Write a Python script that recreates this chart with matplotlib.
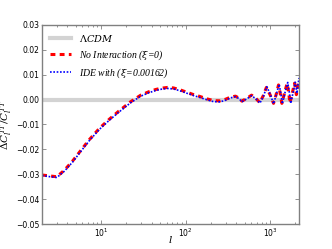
import numpy as np
import matplotlib
matplotlib.use("Agg")
import matplotlib.pyplot as plt
from matplotlib.ticker import FixedLocator, LogLocator, NullFormatter

# multipole values
l_red = [2, 2.5, 3, 3.7, 4.6, 5.8, 7.3, 9.6, 12.5, 16.4, 22.5, 29.5, 37, 44.6,
         52, 61, 72, 85, 105, 125, 150, 180, 214, 257, 300, 340, 390, 430, 464,
         530, 605, 680, 755, 830, 905, 1000, 1100, 1180, 1260, 1320, 1380, 1480,
         1590, 1660, 1720, 1830, 1950, 2050, 2200]
d_red = [-0.0303, -0.0307, -0.0310, -0.0283, -0.0247, -0.0203, -0.0160, -0.0115,
         -0.0079, -0.0045, -0.0008, 0.0018, 0.0032, 0.0041, 0.0046, 0.0049,
         0.0047, 0.0040, 0.0029, 0.0020, 0.0012, 0.0003, -0.0004, -0.0005,
         0.0002, 0.0010, 0.0014, 0.0006, -0.0006, 0.0005, 0.0018, 0.0005,
         -0.0012, 0.0015, 0.0049, 0.0020, -0.0015, 0.0020, 0.0059, 0.0025,
         -0.0015, 0.0025, 0.0065, 0.0030, -0.0014, 0.0025, 0.0066, 0.0020,
         0.0080]

l_blue = [2, 2.5, 3, 3.7, 4.6, 5.8, 7.3, 9.6, 12.5, 16.4, 22.5, 29.5, 37, 44.6,
          52, 61, 72, 85, 105, 125, 150, 180, 214, 257, 300, 340, 390, 430, 464,
          530, 605, 680, 760, 840, 915, 1010, 1100, 1190, 1280, 1340, 1400, 1500,
          1620, 1690, 1760, 1870, 1990, 2080, 2200]
d_blue = [-0.0305, -0.0310, -0.0313, -0.0287, -0.0251, -0.0207, -0.0164, -0.0119,
          -0.0083, -0.0049, -0.0012, 0.0014, 0.0028, 0.0037, 0.0042, 0.0045,
          0.0043, 0.0036, 0.0025, 0.0016, 0.0008, -0.0001, -0.0008, -0.0009,
          -0.0002, 0.0007, 0.0012, 0.0004, -0.0009, 0.0003, 0.0016, 0.0003,
          -0.0014, 0.0016, 0.0052, 0.0020, -0.0017, 0.0022, 0.0062, 0.0026,
          -0.0017, 0.0027, 0.0069, 0.0030, -0.0015, 0.0027, 0.0070, 0.0025,
          0.0087]

l_lcdm = [2, 2200]
d_lcdm = [0.0, 0.0]

labels = [r'$\Lambda CDM$', r'No Interaction ($\xi$=0)', r'IDE with ($\xi$=0.00162)']

plt.rcParams['mathtext.fontset'] = 'dejavuserif'

fig = plt.figure(figsize=(3.32, 2.49), dpi=100)
ax = fig.add_axes([0.1265, 0.1004, 0.774, 0.7992])

ax.plot(l_lcdm, d_lcdm, color='#d3d3d3', lw=3.0, label=labels[0])
ax.plot(l_red, d_red, color='red', lw=2.2, ls=(0, (1.6, 1.4)), label=labels[1])
ax.plot(l_blue, d_blue, color='blue', lw=1.2, ls=(0, (1, 1)), label=labels[2])

ax.set_xscale('log')
ax.set_xlim(2, 2200)
ax.set_ylim(-0.05, 0.03)
ax.yaxis.set_major_locator(FixedLocator(np.arange(-0.05, 0.031, 0.01)))
ax.yaxis.set_major_formatter(plt.FuncFormatter(lambda v, p: f'{v:.2f}'.replace('-', '\u2212')))
ax.xaxis.set_minor_locator(LogLocator(base=10, subs=np.arange(2, 10)))
ax.xaxis.set_minor_formatter(NullFormatter())

for s in ax.spines.values():
    s.set_color('0.5')
    s.set_linewidth(1.0)
ax.tick_params(which='both', direction='in', top=True, right=True,
               labelsize=5.5, color='0.4', pad=2)
ax.tick_params(which='major', length=3, width=0.5)
ax.tick_params(which='minor', length=1.5, width=0.5)

ax.set_xlabel(r'$l$', fontsize=7.5, va='center')
ax.xaxis.set_label_coords(0.5, -0.08)
ax.set_ylabel(r'$\Delta C_l^{TT}/C_l^{TT}$', fontsize=7.5, labelpad=1)

leg = ax.legend(loc='upper left', frameon=False, handlelength=2.2,
                prop={'family': 'Liberation Serif', 'style': 'italic', 'size': 7},
                borderaxespad=0.4, labelspacing=0.45)

fig.savefig('out.png', dpi=100)
